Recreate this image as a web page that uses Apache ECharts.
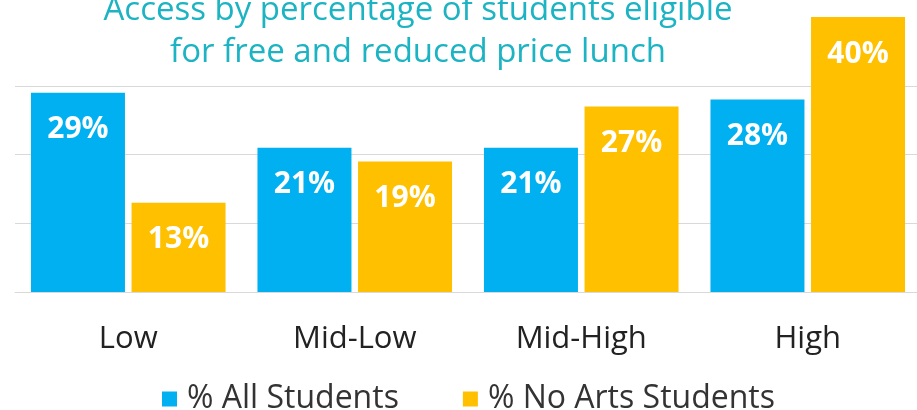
<!DOCTYPE html>
<html><head><meta charset="utf-8">
<script src="https://cdn.jsdelivr.net/npm/echarts@6/dist/echarts.min.js"></script>
<style>html,body{margin:0;padding:0;background:#fff;overflow:hidden}#c{width:929px;height:410px}</style>
</head><body><div id="c"></div>
<script>
const categories = ['Low', 'Mid-Low', 'Mid-High', 'High'];
const allStudents = [29, 21, 21, 28];
const noArtsStudents = [13, 19, 27, 40];
const seriesNames = ['% All Students', '% No Arts Students'];
const titleText = 'Access by percentage of students eligible\nfor free and reduced price lunch';

const chart = echarts.init(document.getElementById('c'));
const labelCfg = {
  show: true, position: 'insideTop', distance: 22,
  color: '#fff', fontSize: 30, fontWeight: 'bold', fontFamily: 'Open Sans',
  formatter: p => p.value + '%'
};
chart.setOption({
  animation: false,
  title: {
    text: titleText, left: 413, textAlign: 'center', top: -15,
    textStyle: { color: '#1cb3c2', fontSize: 33, fontWeight: 'normal', fontFamily: 'Open Sans', lineHeight: 42 }
  },
  legend: {
    bottom: -10, left: 157, itemWidth: 15, itemHeight: 15, itemGap: 64, icon: 'rect',
    textStyle: { fontSize: 32, color: '#333', fontFamily: 'Open Sans', padding: [0, 0, 0, 5] },
    data: seriesNames
  },
  grid: { left: 15, right: 8, top: 17, bottom: 118 },
  xAxis: {
    type: 'category', data: categories,
    axisLine: { lineStyle: { color: '#d9d9d9' } },
    axisTick: { length: 9, lineStyle: { color: '#d9d9d9' } },
    axisLabel: { fontSize: 31, color: '#222', margin: 32, fontFamily: 'Open Sans' }
  },
  yAxis: {
    type: 'value', min: 0, max: 40, interval: 10,
    axisLabel: { show: false }, axisLine: { show: false }, axisTick: { show: false },
    splitLine: { lineStyle: { color: ['#d9d9d9', '#d9d9d9', '#d9d9d9', '#d9d9d9', 'rgba(0,0,0,0)'] } }
  },
  series: [
    { name: seriesNames[0], type: 'bar', data: allStudents, barWidth: 94, barGap: '7%',
      itemStyle: { color: '#00b0f0' }, label: labelCfg },
    { name: seriesNames[1], type: 'bar', data: noArtsStudents, barWidth: 94,
      itemStyle: { color: '#ffc000' }, label: labelCfg }
  ]
});
</script></body></html>
